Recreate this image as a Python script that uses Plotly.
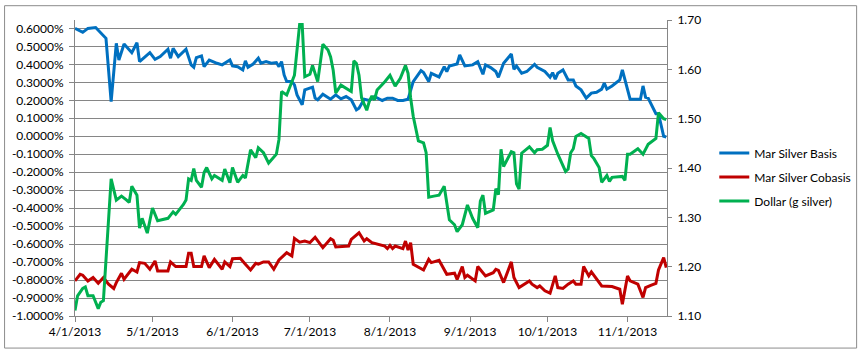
import plotly.graph_objects as go

# ---------------- data ----------------
basis_dates = ["2013-04-01","2013-04-04","2013-04-06","2013-04-09","2013-04-13","2013-04-15","2013-04-17","2013-04-18",
 "2013-04-20","2013-04-23","2013-04-25","2013-04-26","2013-04-30","2013-05-02","2013-05-04","2013-05-07","2013-05-08",
 "2013-05-09","2013-05-11","2013-05-14","2013-05-16","2013-05-17","2013-05-18","2013-05-20","2013-05-21","2013-05-23",
 "2013-05-26","2013-05-28","2013-05-31","2013-06-01","2013-06-03","2013-06-05","2013-06-06","2013-06-07","2013-06-09",
 "2013-06-11","2013-06-12","2013-06-14","2013-06-16","2013-06-18","2013-06-19","2013-06-20","2013-06-21","2013-06-22",
 "2013-06-24","2013-06-25","2013-06-26","2013-06-28","2013-06-29","2013-07-02","2013-07-03","2013-07-04","2013-07-06",
 "2013-07-09","2013-07-11","2013-07-13","2013-07-15","2013-07-17","2013-07-19","2013-07-20","2013-07-22","2013-07-24",
 "2013-07-26","2013-07-29","2013-07-31","2013-08-02","2013-08-04","2013-08-06","2013-08-08","2013-08-10","2013-08-13",
 "2013-08-14","2013-08-16","2013-08-17","2013-08-20","2013-08-22","2013-08-23","2013-08-24","2013-08-27","2013-08-28",
 "2013-08-30","2013-09-02","2013-09-04","2013-09-06","2013-09-07","2013-09-09","2013-09-11","2013-09-12","2013-09-14",
 "2013-09-17","2013-09-18","2013-09-19","2013-09-21","2013-09-23","2013-09-26","2013-09-27","2013-09-30","2013-10-02",
 "2013-10-03","2013-10-04","2013-10-05","2013-10-07","2013-10-09","2013-10-11","2013-10-12","2013-10-14","2013-10-16",
 "2013-10-18","2013-10-20","2013-10-22","2013-10-23","2013-10-24","2013-10-26","2013-10-29","2013-10-30","2013-11-02",
 "2013-11-06","2013-11-07","2013-11-08","2013-11-09","2013-11-12","2013-11-13","2013-11-15","2013-11-16"]
basis_vals = [0.600,0.578,0.600,0.605,0.545,0.193,0.517,0.424,
 0.513,0.465,0.520,0.415,0.465,0.428,0.443,0.484,0.434,
 0.489,0.443,0.484,0.397,0.384,0.437,0.447,0.387,0.424,
 0.406,0.397,0.424,0.391,0.387,0.369,0.419,0.384,0.402,
 0.434,0.406,0.415,0.406,0.410,0.387,0.415,0.341,0.304,
 0.304,0.286,0.230,0.175,0.258,0.273,0.212,0.203,0.234,
 0.206,0.230,0.208,0.221,0.203,0.147,0.156,0.206,0.199,
 0.221,0.199,0.212,0.212,0.199,0.199,0.206,0.304,0.365,
 0.354,0.304,0.350,0.330,0.387,0.360,0.391,0.402,0.452,
 0.391,0.397,0.415,0.345,0.397,0.382,0.360,0.328,0.406,
 0.458,0.373,0.391,0.350,0.360,0.400,0.384,0.360,0.328,
 0.354,0.317,0.350,0.369,0.313,0.313,0.280,0.258,0.212,
 0.240,0.245,0.262,0.295,0.262,0.280,0.313,0.369,0.206,
 0.206,0.280,0.217,0.212,0.125,0.125,0.000,-0.004]

cobasis_dates = ["2013-04-01","2013-04-03","2013-04-04","2013-04-06","2013-04-08","2013-04-10","2013-04-12","2013-04-14",
 "2013-04-16","2013-04-17","2013-04-19","2013-04-20","2013-04-21","2013-04-23","2013-04-25","2013-04-26","2013-04-28",
 "2013-04-30","2013-05-02","2013-05-03","2013-05-07","2013-05-08","2013-05-10","2013-05-14","2013-05-15","2013-05-16",
 "2013-05-17","2013-05-20","2013-05-21","2013-05-23","2013-05-25","2013-05-28","2013-05-29","2013-05-31","2013-06-01",
 "2013-06-04","2013-06-06","2013-06-08","2013-06-10","2013-06-11","2013-06-13","2013-06-15","2013-06-17","2013-06-19",
 "2013-06-22","2013-06-24","2013-06-25","2013-06-27","2013-06-29","2013-07-01","2013-07-03","2013-07-06","2013-07-09",
 "2013-07-10","2013-07-11","2013-07-16","2013-07-17","2013-07-20","2013-07-22","2013-07-23","2013-07-25","2013-07-28",
 "2013-07-30","2013-07-31","2013-08-01","2013-08-02","2013-08-03","2013-08-06","2013-08-07","2013-08-08","2013-08-09",
 "2013-08-10","2013-08-14","2013-08-16","2013-08-17","2013-08-20","2013-08-23","2013-08-26","2013-08-27","2013-08-29",
 "2013-08-30","2013-08-31","2013-09-03","2013-09-04","2013-09-07","2013-09-10","2013-09-11","2013-09-12","2013-09-14",
 "2013-09-17","2013-09-18","2013-09-20","2013-09-24","2013-09-25","2013-09-27","2013-09-28","2013-09-30","2013-10-02",
 "2013-10-04","2013-10-05","2013-10-07","2013-10-09","2013-10-11","2013-10-12","2013-10-14","2013-10-15","2013-10-17",
 "2013-10-18","2013-10-20","2013-10-22","2013-10-26","2013-10-29","2013-10-30","2013-11-01","2013-11-02","2013-11-05",
 "2013-11-07","2013-11-08","2013-11-10","2013-11-12","2013-11-13","2013-11-15","2013-11-16"]
cobasis_vals = [-0.805,-0.768,-0.773,-0.805,-0.786,-0.818,-0.786,-0.823,
 -0.847,-0.814,-0.762,-0.796,-0.777,-0.740,-0.755,-0.703,-0.707,
 -0.740,-0.694,-0.749,-0.749,-0.699,-0.725,-0.725,-0.651,-0.651,
 -0.725,-0.725,-0.666,-0.731,-0.685,-0.740,-0.699,-0.725,-0.681,
 -0.679,-0.712,-0.744,-0.707,-0.712,-0.699,-0.699,-0.740,-0.688,
 -0.648,-0.666,-0.568,-0.589,-0.583,-0.592,-0.562,-0.620,-0.570,
 -0.579,-0.616,-0.611,-0.574,-0.537,-0.583,-0.570,-0.592,-0.601,
 -0.611,-0.625,-0.607,-0.625,-0.611,-0.625,-0.583,-0.633,-0.592,
 -0.712,-0.744,-0.685,-0.703,-0.690,-0.768,-0.762,-0.796,-0.725,
 -0.786,-0.773,-0.805,-0.725,-0.777,-0.759,-0.740,-0.746,-0.814,
 -0.699,-0.786,-0.842,-0.805,-0.823,-0.842,-0.833,-0.860,-0.873,
 -0.777,-0.842,-0.847,-0.823,-0.805,-0.823,-0.823,-0.725,-0.777,
 -0.755,-0.796,-0.833,-0.836,-0.851,-0.934,-0.777,-0.805,-0.823,
 -0.897,-0.842,-0.829,-0.818,-0.744,-0.675,-0.731]

dollar_dates = ["2013-04-01","2013-04-02","2013-04-04","2013-04-05","2013-04-06","2013-04-08","2013-04-10","2013-04-11",
 "2013-04-12","2013-04-15","2013-04-17","2013-04-19","2013-04-21","2013-04-22","2013-04-23","2013-04-25","2013-04-26",
 "2013-04-27","2013-04-29","2013-05-01","2013-05-03","2013-05-07","2013-05-09","2013-05-10","2013-05-13","2013-05-14",
 "2013-05-15","2013-05-16","2013-05-17","2013-05-18","2013-05-20","2013-05-21","2013-05-22","2013-05-24","2013-05-25",
 "2013-05-28","2013-05-29","2013-05-31","2013-06-01","2013-06-03","2013-06-05","2013-06-06","2013-06-08","2013-06-10",
 "2013-06-11","2013-06-13","2013-06-15","2013-06-18","2013-06-19","2013-06-20","2013-06-22","2013-06-25","2013-06-27",
 "2013-06-28","2013-06-29","2013-07-01","2013-07-02","2013-07-04","2013-07-06","2013-07-08","2013-07-09","2013-07-10",
 "2013-07-11","2013-07-13","2013-07-17","2013-07-18","2013-07-19","2013-07-20","2013-07-21","2013-07-23","2013-07-24",
 "2013-07-25","2013-07-26","2013-07-27","2013-07-30","2013-08-01","2013-08-03","2013-08-05","2013-08-07","2013-08-08",
 "2013-08-09","2013-08-10","2013-08-12","2013-08-14","2013-08-15","2013-08-16","2013-08-18","2013-08-20","2013-08-22",
 "2013-08-24","2013-08-26","2013-08-27","2013-08-29","2013-08-31","2013-09-02","2013-09-04","2013-09-05","2013-09-06",
 "2013-09-07","2013-09-10","2013-09-11","2013-09-12","2013-09-13","2013-09-14","2013-09-17","2013-09-18","2013-09-19",
 "2013-09-20","2013-09-21","2013-09-24","2013-09-26","2013-09-27","2013-09-29","2013-10-01","2013-10-02","2013-10-03",
 "2013-10-05","2013-10-08","2013-10-09","2013-10-10","2013-10-11","2013-10-12","2013-10-14","2013-10-17","2013-10-18",
 "2013-10-19","2013-10-21","2013-10-22","2013-10-24","2013-10-25","2013-10-26","2013-10-30","2013-10-31","2013-11-01",
 "2013-11-02","2013-11-05","2013-11-07","2013-11-09","2013-11-12","2013-11-13","2013-11-15","2013-11-16"]
dollar_vals = [1.111,1.141,1.156,1.159,1.141,1.141,1.115,1.128,
 1.131,1.378,1.335,1.343,1.335,1.330,1.363,1.345,1.278,
 1.298,1.268,1.319,1.293,1.298,1.311,1.306,1.326,1.335,
 1.378,1.375,1.399,1.375,1.361,1.391,1.401,1.378,1.385,
 1.375,1.398,1.370,1.401,1.371,1.385,1.380,1.437,1.421,
 1.441,1.431,1.410,1.428,1.458,1.555,1.548,1.588,1.691,
 1.691,1.585,1.590,1.608,1.575,1.651,1.639,1.625,1.598,
 1.552,1.568,1.555,1.617,1.612,1.588,1.542,1.517,1.535,
 1.546,1.538,1.558,1.575,1.588,1.566,1.582,1.608,1.592,
 1.542,1.505,1.455,1.451,1.431,1.341,1.343,1.345,1.363,
 1.295,1.285,1.271,1.285,1.325,1.298,1.279,1.333,1.345,
 1.308,1.315,1.358,1.346,1.438,1.403,1.433,1.431,1.368,
 1.357,1.430,1.443,1.431,1.437,1.438,1.446,1.482,1.455,
 1.428,1.393,1.398,1.431,1.439,1.464,1.470,1.460,1.425,
 1.419,1.401,1.371,1.385,1.373,1.381,1.383,1.375,1.428,
 1.428,1.439,1.428,1.448,1.460,1.512,1.500,1.498]

left_ticks = [0.6,0.5,0.4,0.3,0.2,0.1,0.0,-0.1,-0.2,-0.3,-0.4,-0.5,-0.6,-0.7,-0.8,-0.9,-1.0]
right_ticks = [1.10,1.20,1.30,1.40,1.50,1.60,1.70]
month_ticks = ["2013-04-01","2013-05-01","2013-06-01","2013-07-01","2013-08-01","2013-09-01","2013-10-01","2013-11-01"]
month_labels = ["4/1/2013","5/1/2013","6/1/2013","7/1/2013","8/1/2013","9/1/2013","10/1/2013","11/1/2013"]

# ---------------- figure ----------------
FONT = "Lato"
GRID = "#868686"

fig = go.Figure()
fig.add_trace(go.Scatter(x=basis_dates, y=basis_vals, mode="lines", name="Mar Silver Basis",
                         line=dict(color="#0070C0", width=3), legendgroup="a"))
fig.add_trace(go.Scatter(x=cobasis_dates, y=cobasis_vals, mode="lines", name="Mar Silver Cobasis",
                         line=dict(color="#C00000", width=3), legendgroup="b"))
fig.add_trace(go.Scatter(x=dollar_dates, y=dollar_vals, mode="lines", name="Dollar (g silver)",
                         line=dict(color="#00B050", width=3), legendgroup="c", yaxis="y2"))

W, H = 868, 351
L, R, T, B = 73, 194, 16, 35
pw, ph = W - L - R, H - T - B

def px_x(p):
    return (p - L) / pw

def px_y(p):
    return (H - B - p) / ph

fig.update_layout(
    width=W, height=H,
    margin=dict(l=L, r=R, t=T, b=B, pad=0),
    paper_bgcolor="white", plot_bgcolor="white",
    font=dict(family=FONT, size=12, color="#000000"),
    showlegend=True,
    legend=dict(x=px_x(722), y=px_y(175), xanchor="left", yanchor="middle",
                bgcolor="rgba(0,0,0,0)", font=dict(family=FONT, size=12, color="#000000"),
                tracegroupgap=5, itemwidth=30),
    xaxis=dict(type="date", range=["2013-04-01", "2013-11-16 07:00"],
               tickvals=month_ticks, ticktext=month_labels,
               showgrid=False, zeroline=False,
               showline=True, linecolor=GRID, linewidth=1,
               ticks="outside", ticklen=5, tickcolor=GRID, tickwidth=1,
               tickfont=dict(family=FONT, size=12, color="#000000")),
    yaxis=dict(range=[-1.0, 0.6467],
               tickvals=left_ticks, ticktext=[f"{v:.4f}%" for v in left_ticks],
               showgrid=True, gridcolor=GRID, gridwidth=1, zeroline=False,
               showline=True, linecolor=GRID, linewidth=1,
               ticks="outside", ticklen=5, tickcolor=GRID, tickwidth=1,
               ticklabelstandoff=3,
               tickfont=dict(family=FONT, size=12, color="#000000")),
    yaxis2=dict(range=[1.10, 1.70], overlaying="y", side="right",
                tickvals=right_ticks, ticktext=[f"{v:.2f}" for v in right_ticks],
                showgrid=False, zeroline=False,
                showline=True, linecolor=GRID, linewidth=1,
                ticks="outside", ticklen=4, tickcolor=GRID, tickwidth=1,
                ticklabelstandoff=3,
                tickfont=dict(family=FONT, size=12, color="#000000")),
    shapes=[dict(type="rect", xref="paper", yref="paper",
                 x0=px_x(1.5), x1=px_x(866.5), y0=px_y(348.5), y1=px_y(1.5),
                 line=dict(color="#8c8c8c", width=1), fillcolor="rgba(0,0,0,0)", layer="below")],
)

fig.write_html("out.html")
